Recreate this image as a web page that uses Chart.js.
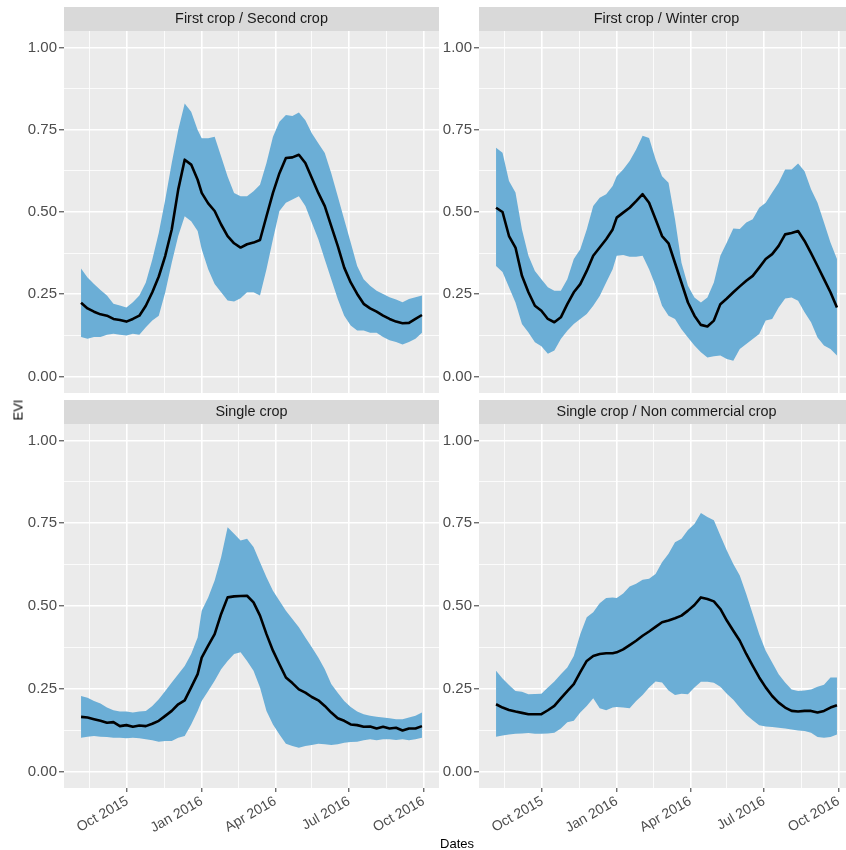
<!DOCTYPE html>
<html><head><meta charset="utf-8">
<script src="https://cdn.jsdelivr.net/npm/chart.js@4.4.1/dist/chart.umd.min.js"></script>
<style>
html,body{margin:0;padding:0;background:#fff;width:846px;height:850px;overflow:hidden;position:relative;font-family:"Liberation Sans",Arial,sans-serif;}
canvas{position:absolute;}
.lab{position:absolute;color:#000;font-size:13px;white-space:nowrap;}
#evi{left:18px;top:410px;transform:translate(-50%,-50%) rotate(-90deg);}
#dates{left:457px;top:843px;transform:translate(-50%,-50%);}
</style></head><body>
<canvas id="c1" width="440" height="395" style="left:0;top:0"></canvas>
<canvas id="c2" width="420" height="395" style="left:440px;top:0"></canvas>
<canvas id="c3" width="440" height="455" style="left:0;top:395px"></canvas>
<canvas id="c4" width="420" height="455" style="left:440px;top:395px"></canvas>
<div class="lab" id="evi">EVI</div>
<div class="lab" id="dates">Dates</div>
<script>
// 8-day composite dates
const dates = ['2015-08-05','2015-08-13','2015-08-21','2015-08-29','2015-09-06','2015-09-14','2015-09-22','2015-09-30',
 '2015-10-08','2015-10-16','2015-10-24','2015-11-01','2015-11-09','2015-11-17','2015-11-25','2015-12-03','2015-12-11',
 '2015-12-19','2015-12-27','2016-01-01','2016-01-09','2016-01-17','2016-01-25','2016-02-02','2016-02-10','2016-02-18',
 '2016-02-26','2016-03-05','2016-03-13','2016-03-21','2016-03-29','2016-04-06','2016-04-14','2016-04-22','2016-04-30',
 '2016-05-08','2016-05-16','2016-05-24','2016-06-01','2016-06-09','2016-06-17','2016-06-25','2016-07-03','2016-07-11',
 '2016-07-19','2016-07-27','2016-08-04','2016-08-12','2016-08-20','2016-08-28','2016-09-05','2016-09-13','2016-09-21','2016-09-29'];

const majorDates = ['2015-10-01','2016-01-01','2016-04-01','2016-07-01','2016-10-01'];
const majorLabels = ['Oct 2015','Jan 2016','Apr 2016','Jul 2016','Oct 2016'];
const minorDates = ['2015-08-16','2015-11-16','2016-02-15','2016-05-16','2016-08-16'];
const yMajor = [0, 0.25, 0.5, 0.75, 1];
const yMinor = [0.125, 0.375, 0.625, 0.875];
const titles = ['First crop / Second crop','First crop / Winter crop','Single crop','Single crop / Non commercial crop'];

// First crop / Second crop
const fsMean = [0.224,0.207,0.197,0.189,0.185,0.175,0.172,0.167,0.175,0.185,0.215,0.256,0.304,0.367,0.447,0.568,0.659,0.644,0.598,0.558,0.526,0.503,0.462,0.427,0.405,0.392,0.402,0.407,0.415,0.487,0.558,0.618,0.664,0.666,0.674,0.649,0.603,0.558,0.518,0.457,0.397,0.331,0.286,0.251,0.221,0.207,0.197,0.185,0.175,0.167,0.162,0.163,0.175,0.187];
const fsUpper = [0.328,0.301,0.281,0.263,0.246,0.221,0.216,0.21,0.226,0.246,0.286,0.356,0.437,0.538,0.649,0.749,0.83,0.805,0.749,0.724,0.724,0.729,0.669,0.608,0.558,0.548,0.548,0.563,0.583,0.649,0.729,0.774,0.795,0.792,0.802,0.779,0.739,0.709,0.679,0.618,0.548,0.477,0.407,0.336,0.296,0.276,0.261,0.251,0.241,0.234,0.226,0.236,0.241,0.246];
const fsLower = [0.12,0.115,0.12,0.12,0.127,0.13,0.127,0.125,0.13,0.127,0.15,0.17,0.185,0.256,0.346,0.427,0.487,0.472,0.442,0.387,0.326,0.281,0.256,0.231,0.228,0.238,0.256,0.256,0.246,0.326,0.417,0.503,0.528,0.538,0.548,0.518,0.467,0.417,0.356,0.296,0.236,0.185,0.155,0.14,0.14,0.133,0.133,0.12,0.11,0.105,0.097,0.105,0.115,0.133];

// First crop / Winter crop
const fwMean = [0.513,0.5,0.427,0.392,0.306,0.256,0.215,0.2,0.175,0.165,0.18,0.22,0.256,0.281,0.321,0.367,0.392,0.417,0.447,0.483,0.498,0.513,0.533,0.554,0.528,0.478,0.427,0.405,0.345,0.285,0.225,0.185,0.157,0.152,0.17,0.22,0.237,0.256,0.274,0.291,0.306,0.331,0.357,0.372,0.397,0.432,0.436,0.442,0.412,0.375,0.336,0.296,0.256,0.21];
const fwUpper = [0.695,0.68,0.594,0.559,0.447,0.367,0.321,0.296,0.271,0.261,0.261,0.296,0.357,0.387,0.447,0.518,0.543,0.554,0.579,0.609,0.629,0.655,0.69,0.732,0.725,0.66,0.609,0.589,0.478,0.346,0.276,0.24,0.225,0.24,0.286,0.367,0.407,0.45,0.448,0.468,0.478,0.513,0.528,0.559,0.589,0.629,0.629,0.647,0.624,0.569,0.528,0.468,0.407,0.357];
const fwLower = [0.336,0.318,0.271,0.225,0.16,0.134,0.104,0.092,0.069,0.079,0.114,0.139,0.16,0.175,0.19,0.215,0.245,0.286,0.326,0.367,0.369,0.364,0.364,0.367,0.326,0.276,0.215,0.185,0.175,0.144,0.119,0.094,0.074,0.058,0.062,0.064,0.053,0.048,0.084,0.099,0.114,0.129,0.17,0.175,0.21,0.237,0.24,0.23,0.195,0.165,0.119,0.094,0.084,0.064];

// Single crop
const scMean = [0.165,0.163,0.158,0.153,0.147,0.149,0.137,0.14,0.135,0.139,0.137,0.144,0.153,0.168,0.183,0.203,0.215,0.254,0.294,0.344,0.38,0.415,0.476,0.526,0.529,0.53,0.531,0.511,0.471,0.415,0.365,0.324,0.284,0.267,0.248,0.238,0.225,0.215,0.198,0.178,0.161,0.153,0.142,0.14,0.135,0.136,0.13,0.135,0.13,0.132,0.124,0.13,0.13,0.137];
const scUpper = [0.228,0.223,0.213,0.205,0.193,0.185,0.181,0.181,0.178,0.181,0.183,0.198,0.218,0.243,0.269,0.294,0.319,0.355,0.405,0.486,0.526,0.577,0.647,0.738,0.718,0.698,0.703,0.678,0.632,0.587,0.546,0.516,0.486,0.461,0.436,0.405,0.375,0.344,0.309,0.264,0.238,0.213,0.195,0.181,0.173,0.168,0.165,0.163,0.161,0.158,0.158,0.163,0.168,0.178];
const scLower = [0.102,0.105,0.107,0.105,0.104,0.102,0.102,0.1,0.102,0.1,0.097,0.094,0.09,0.092,0.092,0.102,0.107,0.142,0.183,0.213,0.243,0.274,0.309,0.334,0.355,0.36,0.334,0.304,0.254,0.183,0.142,0.112,0.084,0.077,0.072,0.077,0.08,0.084,0.082,0.08,0.082,0.087,0.089,0.09,0.094,0.097,0.094,0.097,0.097,0.095,0.097,0.094,0.097,0.102];

// Single crop / Non commercial crop
const snMean = [0.203,0.193,0.186,0.181,0.177,0.173,0.173,0.173,0.185,0.198,0.221,0.243,0.264,0.3,0.334,0.349,0.355,0.357,0.357,0.36,0.369,0.382,0.395,0.41,0.423,0.437,0.451,0.456,0.463,0.471,0.486,0.503,0.526,0.521,0.514,0.491,0.456,0.425,0.395,0.355,0.319,0.284,0.254,0.228,0.208,0.193,0.183,0.181,0.183,0.183,0.178,0.183,0.193,0.2];
const snUpper = [0.304,0.281,0.261,0.243,0.241,0.233,0.234,0.235,0.254,0.272,0.294,0.314,0.349,0.415,0.466,0.481,0.508,0.524,0.526,0.524,0.538,0.559,0.567,0.579,0.582,0.597,0.632,0.658,0.693,0.703,0.73,0.748,0.781,0.769,0.759,0.713,0.668,0.627,0.592,0.536,0.476,0.415,0.365,0.329,0.294,0.269,0.248,0.243,0.245,0.248,0.256,0.262,0.284,0.284];
const snLower = [0.105,0.109,0.112,0.114,0.115,0.116,0.114,0.114,0.115,0.117,0.13,0.149,0.153,0.178,0.198,0.221,0.191,0.185,0.193,0.195,0.193,0.191,0.213,0.231,0.254,0.272,0.269,0.245,0.231,0.235,0.233,0.254,0.271,0.271,0.268,0.256,0.235,0.217,0.193,0.171,0.155,0.14,0.136,0.134,0.132,0.13,0.127,0.124,0.122,0.117,0.104,0.102,0.104,0.112];

const FONT = '"Liberation Sans", Arial, sans-serif';
const RIBBON = '#6BAED6';
const day = s => Date.parse(s + 'T00:00:00Z') / 86400000;
const xs = dates.map(day);
const span = xs[xs.length - 1] - xs[0];
const xMin = xs[0] - 0.05 * span, xMax = xs[xs.length - 1] + 0.05 * span;
const majorX = majorDates.map(day);
const xTickVals = majorX.concat(minorDates.map(day)).sort((a, b) => a - b);
const yTickVals = yMajor.concat(yMinor).sort((a, b) => a - b);
const isMajX = v => majorX.some(m => Math.abs(m - v) < 1e-6);
const isMajY = v => yMajor.some(m => Math.abs(m - v) < 1e-9);
const pts = arr => arr.map((v, i) => ({ x: xs[i], y: v }));

const stripPlugin = {
  id: 'strip',
  beforeDraw(chart, args, o) {
    const { ctx, chartArea: a } = chart;
    ctx.save();
    ctx.fillStyle = '#EBEBEB';
    ctx.fillRect(a.left, a.top, a.right - a.left, a.bottom - a.top);
    ctx.fillStyle = '#D9D9D9';
    ctx.fillRect(a.left, a.top - 24, a.right - a.left, 24);
    ctx.fillStyle = '#1A1A1A';
    ctx.font = '14.4px ' + FONT;
    ctx.textAlign = 'center';
    ctx.textBaseline = 'middle';
    ctx.fillText(o.title, (a.left + a.right) / 2, a.top - 12);
    ctx.restore();
  }
};

function panel(id, title, mean, upper, lower, cfg) {
  return new Chart(document.getElementById(id), {
    type: 'line',
    plugins: [stripPlugin],
    data: {
      datasets: [
        { data: pts(mean), borderColor: '#000000', borderWidth: 2.6, pointRadius: 0, fill: false, order: 0, tension: 0, borderJoinStyle: 'round' },
        { data: pts(upper), borderColor: 'rgba(0,0,0,0)', borderWidth: 0, backgroundColor: RIBBON, pointRadius: 0, fill: '+1', order: 1, tension: 0 },
        { data: pts(lower), borderColor: 'rgba(0,0,0,0)', borderWidth: 0, pointRadius: 0, fill: false, order: 2, tension: 0 }
      ]
    },
    options: {
      responsive: false, animation: false, events: [],
      layout: { padding: { top: cfg.padTop, right: cfg.padRight, bottom: cfg.padBottom, left: 0 } },
      plugins: { legend: { display: false }, tooltip: { enabled: false }, strip: { title: title } },
      scales: {
        x: {
          type: 'linear', min: xMin, max: xMax,
          border: { display: false },
          afterBuildTicks: s => { s.ticks = xTickVals.map(v => ({ value: v })); },
          ticks: {
            display: cfg.showX, autoSkip: false, minRotation: 30, maxRotation: 30, padding: 1,
            color: '#4D4D4D', font: { family: FONT, size: 14 },
            callback: v => { const k = majorX.findIndex(m => Math.abs(m - v) < 1e-6); return k >= 0 ? majorLabels[k] : ''; }
          },
          grid: {
            color: '#FFFFFF',
            lineWidth: c => (c.tick && isMajX(c.tick.value)) ? 1.6 : 0.8,
            drawTicks: cfg.showX, tickLength: 4, tickWidth: 1,
            tickColor: c => (c.tick && isMajX(c.tick.value)) ? '#333333' : 'rgba(0,0,0,0)'
          },
          afterFit: s => { s.height = cfg.xHeight; s.paddingLeft = 0; s.paddingRight = 0; }
        },
        y: {
          min: -0.05, max: 1.05,
          border: { display: false },
          afterBuildTicks: s => { s.ticks = yTickVals.map(v => ({ value: v })); },
          ticks: {
            padding: 2, color: '#4D4D4D', font: { family: FONT, size: 15 },
            callback: v => isMajY(v) ? v.toFixed(2) : ''
          },
          grid: {
            color: '#FFFFFF',
            lineWidth: c => (c.tick && isMajY(c.tick.value)) ? 1.6 : 0.8,
            drawTicks: true, tickLength: 5, tickWidth: 1,
            tickColor: c => (c.tick && isMajY(c.tick.value)) ? '#333333' : 'rgba(0,0,0,0)'
          },
          afterFit: s => { s.width = cfg.yWidth; s.paddingTop = 0; s.paddingBottom = 0; }
        }
      }
    }
  });
}

panel('c1', titles[0], fsMean, fsUpper, fsLower, { padTop: 31, padRight: 1, padBottom: 2, showX: false, xHeight: 0, yWidth: 64 });
panel('c2', titles[1], fwMean, fwUpper, fwLower, { padTop: 31, padRight: 6, padBottom: 2, showX: false, xHeight: 0, yWidth: 39 });
panel('c3', titles[2], scMean, scUpper, scLower, { padTop: 29, padRight: 1, padBottom: 0, showX: true, xHeight: 62, yWidth: 64 });
panel('c4', titles[3], snMean, snUpper, snLower, { padTop: 29, padRight: 6, padBottom: 0, showX: true, xHeight: 62, yWidth: 39 });
</script>
</body></html>
